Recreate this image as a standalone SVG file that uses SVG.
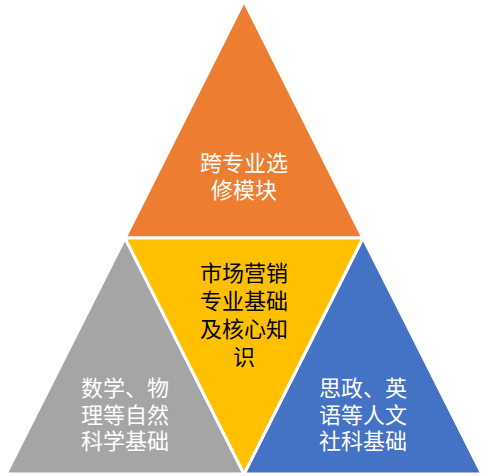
<svg xmlns="http://www.w3.org/2000/svg" width="488" height="476" viewBox="0 0 488 476">
<style>
.tri{stroke:#FFFFFF;stroke-width:3;stroke-linejoin:miter}
.t{font-family:"Noto Sans CJK SC","Noto Sans",sans-serif;font-size:22px;text-anchor:middle}
.w{fill:#FFFFFF}
.k{fill:#000000}
</style>
<rect width="488" height="476" fill="#FFFFFF"/>
<g id="top">
<polygon class="tri" points="244,1 125,238 363,238" fill="#ED7D31"/>
<text class="t w" x="244" y="171">跨专业选</text>
<text class="t w" x="244" y="198">修模块</text>
</g>
<g id="left">
<polygon class="tri" points="125,238 6,474 244,474" fill="#A5A5A5"/>
<text class="t w" x="125" y="396">数学、物</text>
<text class="t w" x="125" y="423">理等自然</text>
<text class="t w" x="125" y="449">科学基础</text>
</g>
<g id="right">
<polygon class="tri" points="363,238 244,474 482,474" fill="#4472C4"/>
<text class="t w" x="363" y="396">思政、英</text>
<text class="t w" x="363" y="423">语等人文</text>
<text class="t w" x="363" y="449">社科基础</text>
</g>
<g id="center">
<polygon class="tri" points="125,238 363,238 244,474" fill="#FFC000"/>
<text class="t k" x="244" y="281">市场营销</text>
<text class="t k" x="244" y="309">专业基础</text>
<text class="t k" x="244" y="337">及核心知</text>
<text class="t k" x="244" y="365">识</text>
</g>
<g id="connectors"></g>
</svg>
